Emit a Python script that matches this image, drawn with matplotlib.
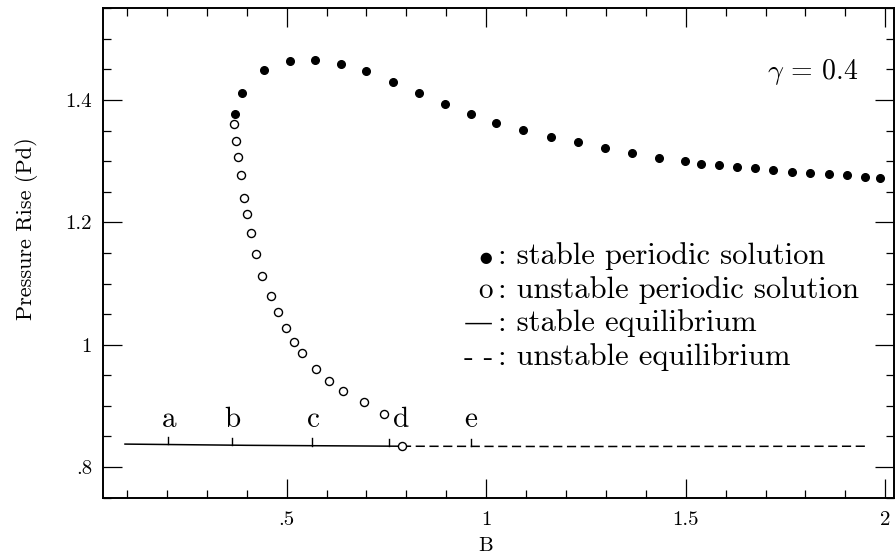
import matplotlib

matplotlib.use("Agg")
import matplotlib.pyplot as plt
from matplotlib.ticker import FixedLocator, MultipleLocator, FuncFormatter

plt.rcParams["font.family"] = ["cmr10", "DejaVu Serif"]
plt.rcParams["mathtext.fontset"] = "cm"
plt.rcParams["axes.formatter.use_mathtext"] = True

# stable periodic solution (filled dots)
stable_B = [0.370, 0.389, 0.443, 0.508, 0.571, 0.637, 0.700, 0.766, 0.831, 0.897,
            0.961, 1.024, 1.093, 1.163, 1.231, 1.299, 1.366, 1.433, 1.499, 1.539,
            1.583, 1.628, 1.674, 1.720, 1.766, 1.812, 1.858, 1.903, 1.949, 1.987]
stable_P = [1.378, 1.411, 1.449, 1.464, 1.466, 1.459, 1.447, 1.429, 1.412, 1.394,
            1.378, 1.363, 1.351, 1.340, 1.331, 1.322, 1.313, 1.306, 1.300, 1.296,
            1.293, 1.291, 1.289, 1.286, 1.282, 1.280, 1.279, 1.277, 1.274, 1.273]

# unstable periodic solution (open circles), last one is the Hopf point
unstable_B = [0.368, 0.372, 0.377, 0.385, 0.393, 0.401, 0.412, 0.424, 0.439, 0.460,
              0.478, 0.499, 0.518, 0.538, 0.573, 0.606, 0.641, 0.693, 0.745, 0.789]
unstable_P = [1.361, 1.333, 1.307, 1.277, 1.240, 1.213, 1.182, 1.148, 1.113, 1.080,
              1.053, 1.028, 1.005, 0.987, 0.961, 0.940, 0.925, 0.906, 0.887, 0.834]

# equilibrium branch
eq_stable_B = [0.095, 0.40, 0.789]
eq_stable_P = [0.8375, 0.8355, 0.834]
eq_unstable_B = [0.789, 1.20, 1.96]
eq_unstable_P = [0.834, 0.8335, 0.834]

# marked points on the equilibrium line
mark_B = [0.203, 0.362, 0.5625, 0.7575, 0.962]
mark_P = [0.8372, 0.8358, 0.8348, 0.8341, 0.8338]
mark_labels = ["a", "b", "c", "d", "e"]
mark_label_B = [0.205, 0.364, 0.566, 0.787, 0.962]
mark_label_P = 0.866

x_ticks = [0.5, 1.0, 1.5, 2.0]
x_tick_labels = [".5", "1", "1.5", "2"]
y_ticks = [0.8, 1.0, 1.2, 1.4]
y_tick_labels = [".8", "1", "1.2", "1.4"]

legend_symbols = [r"$\bullet$", "o", "\u2014", "- -"]
legend_texts = [": stable periodic solution", ": unstable periodic solution",
                ": stable equilibrium", ": unstable equilibrium"]

fig = plt.figure(figsize=(8.96, 5.54), dpi=100)
ax = fig.add_axes([0.115, 0.1018, 0.883, 0.8832])

ax.plot(eq_stable_B, eq_stable_P, color="black", linewidth=1.1)
ax.plot(eq_unstable_B, eq_unstable_P, color="black", linewidth=1.1,
        linestyle=(0, (6, 3)))
ax.plot(stable_B, stable_P, linestyle="none", marker="o", markersize=5.5,
        markerfacecolor="black", markeredgecolor="black")
ax.plot(unstable_B, unstable_P, linestyle="none", marker="o", markersize=5.8,
        markerfacecolor="white", markeredgecolor="black", markeredgewidth=1.0)

for b, p in zip(mark_B, mark_P):
    ax.plot([b, b], [p, p + 0.012], color="black", linewidth=1.0)
for b, lab in zip(mark_label_B, mark_labels):
    ax.text(b, mark_label_P, lab, ha="center", va="baseline", fontsize=21)

for i, (sym, txt) in enumerate(zip(legend_symbols, legend_texts)):
    yy = 0.477 - i * 0.0685
    ax.text(0.493, yy, sym, transform=ax.transAxes, ha="right", va="baseline",
            fontsize=21)
    ax.text(0.499, yy, txt, transform=ax.transAxes, ha="left", va="baseline",
            fontsize=22)

ax.text(0.955, 0.855, r"$\gamma$ = 0.4", transform=ax.transAxes, ha="right",
        va="baseline", fontsize=20)

ax.set_xlim(0.04, 2.0225)
ax.set_ylim(0.75, 1.55)
ax.xaxis.set_major_locator(FixedLocator(x_ticks))
ax.xaxis.set_major_formatter(FuncFormatter(lambda v, pos: x_tick_labels[pos]))
ax.xaxis.set_minor_locator(MultipleLocator(0.1))
ax.yaxis.set_major_locator(FixedLocator(y_ticks))
ax.yaxis.set_major_formatter(FuncFormatter(lambda v, pos: y_tick_labels[pos]))
ax.yaxis.set_minor_locator(MultipleLocator(0.05))

ax.tick_params(which="both", direction="in", top=True, right=True, width=0.9)
ax.tick_params(which="major", length=14, labelsize=15)
ax.tick_params(axis="x", which="major", pad=10)
ax.tick_params(axis="y", which="major", pad=8)
ax.tick_params(which="minor", length=6)
for sp in ax.spines.values():
    sp.set_linewidth(1.4)

ax.set_xlabel("B", fontsize=15)
ax.xaxis.set_label_coords(0.484, -0.08)
ax.set_ylabel("Pressure Rise (Pd)", fontsize=16)
ax.yaxis.set_label_coords(-0.082, 0.55)

fig.savefig("out.png")
plt.close(fig)
